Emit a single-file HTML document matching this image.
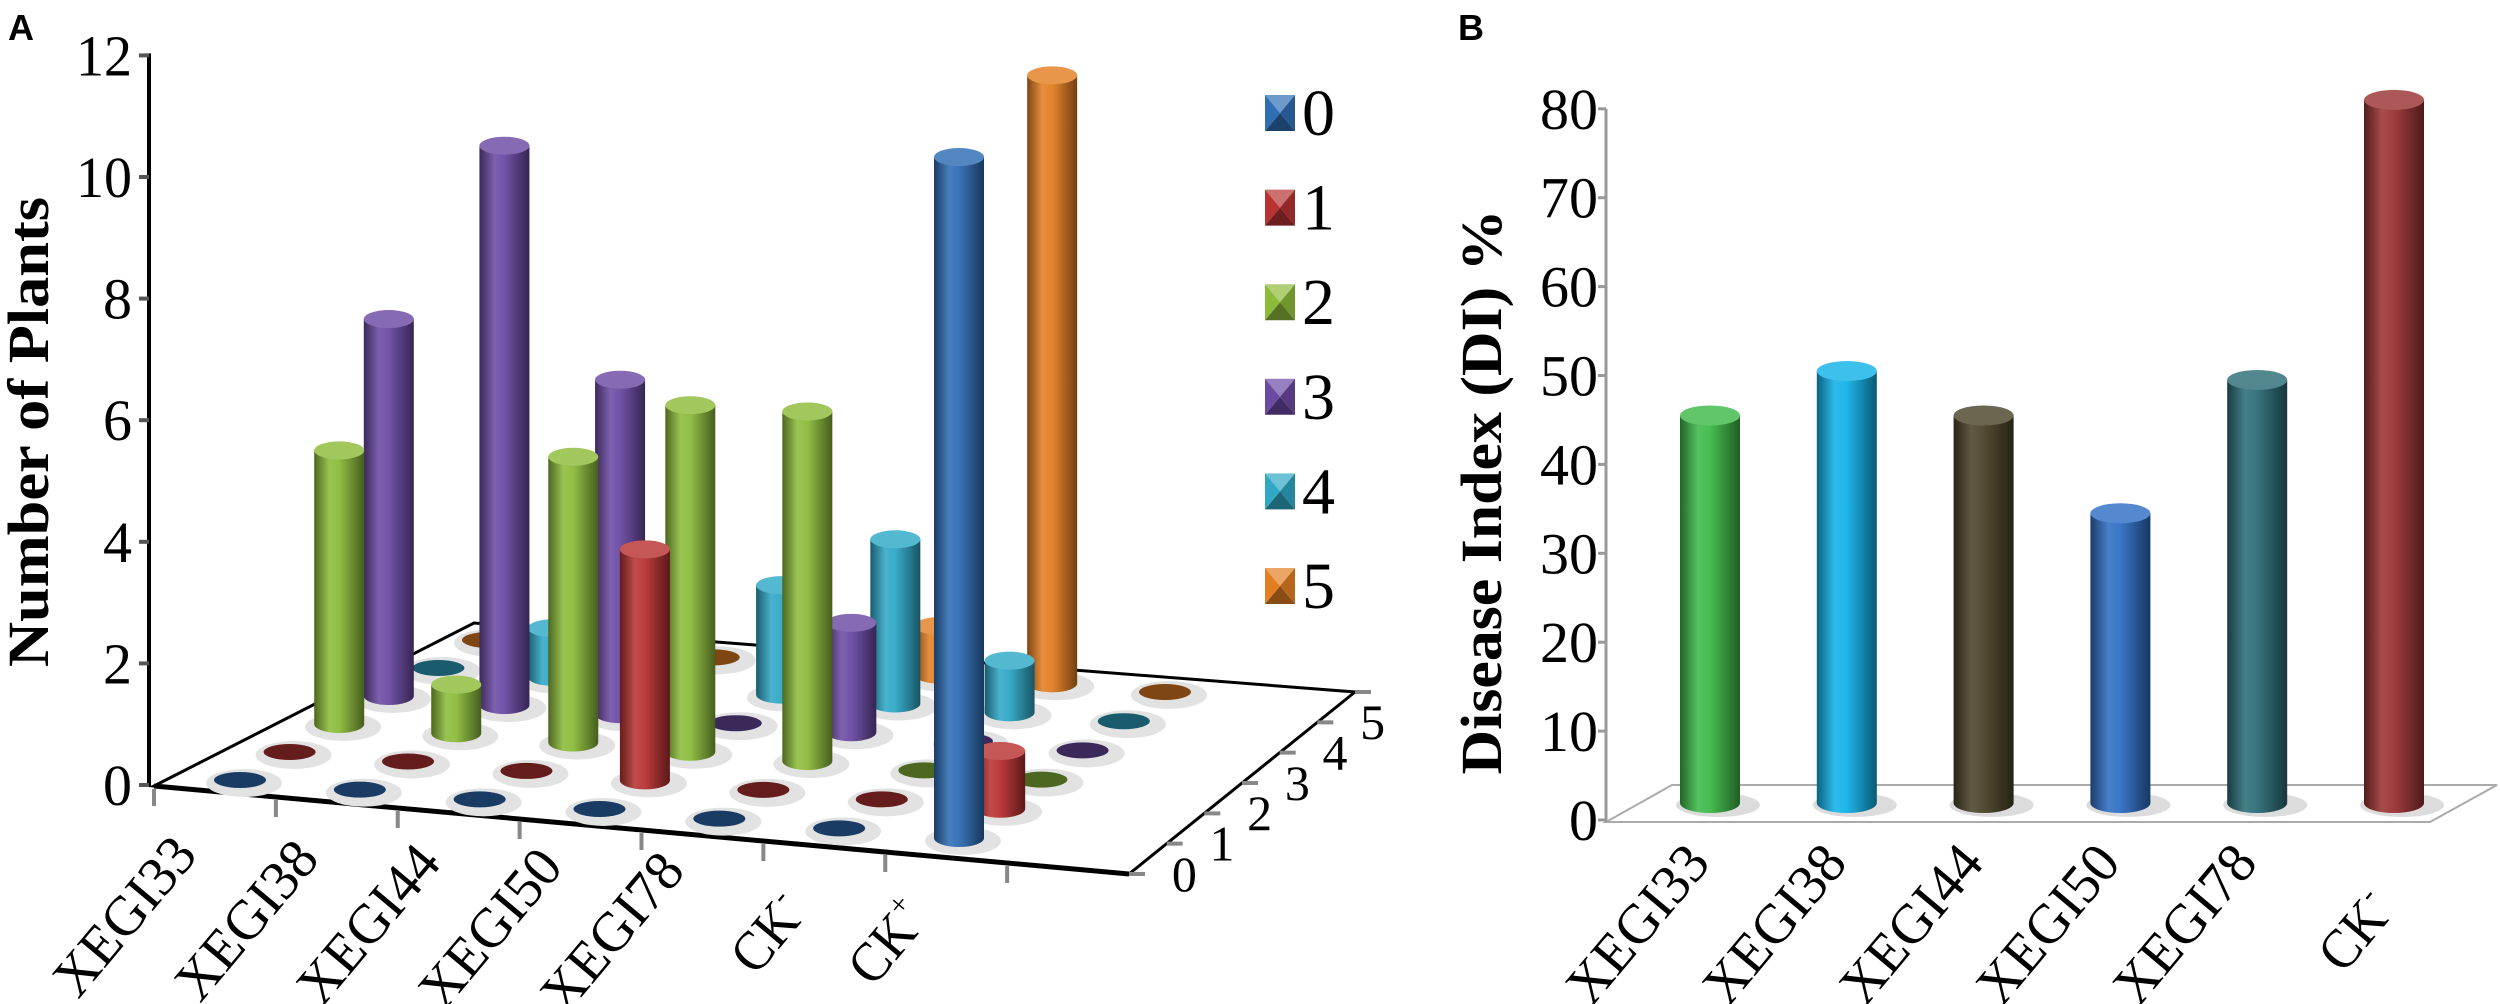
<!DOCTYPE html>
<html><head><meta charset="utf-8"><style>
html,body{margin:0;padding:0;background:#fff;overflow:hidden;}
svg{display:block;}
text{font-family:"Liberation Serif","Times New Roman",serif;}
</style></head><body>
<svg id="chart" width="2500" height="1004" viewBox="0 0 2500 1004">
<defs id="defs"></defs>
<text x="8" y="40" style="font-family:'Liberation Sans',sans-serif" font-weight="bold" font-size="36">A</text>
<text x="1458" y="40" style="font-family:'Liberation Sans',sans-serif" font-weight="bold" font-size="36">B</text>
<g id="panelA" font-family="Liberation Serif, serif"></g>
<g id="panelB" font-family="Liberation Serif, serif"></g>
</svg>
<script>
// ---- Panel A data ----
const catsA = ["XEGI33","XEGI38","XEGI44","XEGI50","XEGI78","CK-","CK+"];
const grades = ["0","1","2","3","4","5"];
const grade0 = [0,0,0,0,0,0,11.2];
const grade1 = [0,0,0,3.8,0,0,0.95];
const grade2 = [4.5,0.8,4.7,5.7,5.75,0,0];
const grade3 = [6.2,9.2,5.5,0,1.8,0,0];
const grade4 = [0,0.8,0,1.8,2.7,0.85,0];
const grade5 = [0,0,0,0,0.8,10,0];
const yTicksA = [0,2,4,6,8,10,12];
// ---- Panel B data ----
const catsB = ["XEGI33","XEGI38","XEGI44","XEGI50","XEGI78","CK-"];
const diValues = [45.5,50.5,45.5,34.5,49.5,81];
const yTicksB = [0,10,20,30,40,50,60,70,80];

const NS="http://www.w3.org/2000/svg";
const svg=document.getElementById('chart');
const defs=document.getElementById('defs');
const gA=document.getElementById('panelA');
const gB=document.getElementById('panelB');
const SERIF='Liberation Serif, serif';
function el(tag,attrs,parent){const e=document.createElementNS(NS,tag);for(const k in attrs)e.setAttribute(k,attrs[k]);if(tag==='text')e.setAttribute('font-family',SERIF);(parent||svg).appendChild(e);return e;}
function mix(hex,t){
 const n=parseInt(hex.slice(1),16);let r=n>>16,g=(n>>8)&255,b=n&255;
 const f=c=>Math.round(t<0?c*(1+t):c+(255-c)*t);
 return `rgb(${f(r)},${f(g)},${f(b)})`;}
let gid=0;
function grad(col){const id='g'+(gid++);const lg=el('linearGradient',{id:id,x1:0,y1:0,x2:1,y2:0},defs);
 [[0,-0.45],[0.3,0.12],[0.5,0.05],[1,-0.5]].forEach(s=>el('stop',{offset:s[0],'stop-color':mix(col,s[1])},lg));return id;}
function cyl(parent,cx,yb,yt,rx,ry,col,name){
 const g=el('g',{},parent);
 
 
 const id=grad(col);
 el('path',{d:`M${cx-rx},${yt} L${cx-rx},${yb} A${rx},${ry} 0 0 0 ${cx+rx},${yb} L${cx+rx},${yt} Z`,fill:`url(#${id})`},g);
 el('ellipse',{cx:cx,cy:yt,rx:rx,ry:ry,fill:mix(col,0.18)},g);
 return g;}
function catLabel(parent,c,x,y){
 const isCK=c.startsWith('CK');
 const attrs={transform:`translate(${x},${y}) rotate(-50)`,'text-anchor':'end','font-size':56};
 if(!isCK){attrs.textLength=188;attrs.lengthAdjust='spacingAndGlyphs';}
 const tx=el('text',attrs,parent);
 
 
 if(isCK){const a=el('tspan',{textLength:72,lengthAdjust:'spacingAndGlyphs'},tx);a.textContent='CK';const s=el('tspan',{'font-size':30,dy:-24},tx);s.textContent=c.slice(2);}
 else tx.textContent=c;}

// ===== Panel A =====
const colorsA=["#2f6db5","#b83232","#8cbb3a","#6b4aa3","#2fa8c6","#e37f22"];
const seriesA=[grade0,grade1,grade2,grade3,grade4,grade5];
const P00=[240,780],P60=[959,838],P05=[488,640],P65=[1165,692];
function lerp(a,b,t){return [a[0]+(b[0]-a[0])*t,a[1]+(b[1]-a[1])*t];}
function floorPt(c,s){const u=c/(catsA.length-1),v=s/(grades.length-1);return lerp(lerp(P00,P60,u),lerp(P05,P65,u),v);}
const unitA=60.8, y0A=785;
function yA(v){return y0A-v*unitA;}
const FL=[154,786],FR=[1129,874],BR=[1355,692],BL=[474,623];
const floor=el('polygon',{points:[FL,FR,BR,BL].map(p=>p.join(',')).join(' '),fill:'#fff',stroke:'#000','stroke-width':3},gA);


const fe=el('line',{x1:FL[0],y1:FL[1],x2:FR[0],y2:FR[1],stroke:'#000','stroke-width':5},gA);


const ya=el('line',{x1:149,y1:yA(12)-2,x2:149,y2:787,stroke:'#000','stroke-width':4},gA);


yTicksA.forEach(v=>{
 const t=el('line',{x1:139,y1:yA(v),x2:149,y2:yA(v),stroke:'#555','stroke-width':4},gA);
 
 
 const attrs={x:132,y:yA(v)+20,'text-anchor':'end','font-size':58};
 if(String(v).length===2){attrs.textLength=56;attrs.lengthAdjust='spacingAndGlyphs';}
 const tx=el('text',attrs,gA);
 
 
 tx.textContent=v;});
const yt=el('text',{transform:'translate(48,432) rotate(-90)','text-anchor':'middle','font-size':58,'font-weight':'bold',textLength:470,lengthAdjust:'spacingAndGlyphs'},gA);


yt.textContent='Number of Plants';
const nSlots=catsA.length+1;
for(let k=0;k<nSlots;k++){const p=lerp(FL,FR,k/nSlots);
 const t=el('line',{x1:p[0],y1:p[1]+3,x2:p[0],y2:p[1]+20,stroke:'#888','stroke-width':4},gA);
 
 }
catsA.forEach((c,i)=>{const p=lerp(FL,FR,(i+0.5)/nSlots);
 const ly=c.startsWith('CK')?(c==='CK+'?920:914):856+i*4;
 catLabel(gA,c,p[0]-16,ly);});
for(let k=0;k<=grades.length;k++){const p=lerp(FR,BR,k/grades.length);
 const t=el('line',{x1:p[0],y1:p[1],x2:p[0]+16,y2:p[1],stroke:'#888','stroke-width':4},gA);
 
 }
grades.forEach((g,k)=>{const p=lerp(FR,BR,(k+0.5)/grades.length);
 const tx=el('text',{x:p[0]+24,y:p[1]+32,'font-size':50},gA);
 
 
 tx.textContent=g;});
const items=[];
seriesA.forEach((arr,s)=>arr.forEach((v,c)=>{const p=floorPt(c,s);items.push({c,s,v,x:p[0],y:p[1]});}));
items.forEach(it=>{
 const sh=el('ellipse',{cx:it.x+4,cy:it.y+3,rx:38,ry:14,fill:'#e2e2e2'},gA);
 
 });
items.filter(it=>it.v===0).forEach(it=>{
 const d=el('ellipse',{cx:it.x,cy:it.y,rx:26,ry:8,fill:mix(colorsA[it.s],-0.45)},gA);
 
 });
items.filter(it=>it.v>0).sort((a,b)=>a.y-b.y).forEach(it=>{
 cyl(gA,it.x,it.y,yA(it.v)-(y0A-it.y),25,9,colorsA[it.s],'bar-'+catsA[it.c]+'-grade'+grades[it.s]);});
grades.forEach((g,i)=>{const cy=113+i*94.6,x=1265,w=30,h=36,y=cy-h/2,col=colorsA[i];
 const lg=el('g',{},gA);
 
 
 const cx=x+w/2;
 el('polygon',{points:`${x},${y} ${x+w},${y} ${cx},${cy}`,fill:mix(col,0.3)},lg);
 el('polygon',{points:`${x+w},${y} ${x+w},${y+h} ${cx},${cy}`,fill:mix(col,-0.2)},lg);
 el('polygon',{points:`${x},${y+h} ${x+w},${y+h} ${cx},${cy}`,fill:mix(col,-0.4)},lg);
 el('polygon',{points:`${x},${y} ${x},${y+h} ${cx},${cy}`,fill:col},lg);
 const tx=el('text',{x:1302,y:cy+22,'font-size':66},lg);
 tx.textContent=g;});

// ===== Panel B =====
const colorsB=["#3dba48","#12b2e8","#4a4428","#2f6fc4","#2c6d78","#9b3333"];
const axB=1606, y0B=820, unitB=8.89;
function yB(v){return y0B-v*unitB;}
function xB(i){return 1710+i*136.8;}
const fb=el('polygon',{points:`1606,822 2430,822 2497,785 1672,785`,fill:'#fff',stroke:'#aaa','stroke-width':2},gB);


const yab=el('line',{x1:axB,y1:yB(80),x2:axB,y2:822,stroke:'#999','stroke-width':3},gB);


yTicksB.forEach(v=>{
 const t=el('line',{x1:axB-8,y1:yB(v),x2:axB,y2:yB(v),stroke:'#999','stroke-width':3},gB);
 
 
 const attrs={x:axB-8,y:yB(v)+20,'text-anchor':'end','font-size':58};
 if(String(v).length===2){attrs.textLength=58;attrs.lengthAdjust='spacingAndGlyphs';}
 const tx=el('text',attrs,gB);
 
 
 tx.textContent=v;});
const ytb=el('text',{transform:'translate(1501,492) rotate(-90)','text-anchor':'middle','font-size':58,'font-weight':'bold',textLength:565,lengthAdjust:'spacingAndGlyphs'},gB);


ytb.textContent='Disease Index (DI) %';
diValues.forEach((v,i)=>{
 const sh=el('ellipse',{cx:xB(i)+8,cy:805,rx:42,ry:12,fill:'#dcdcdc'},gB);
 
 
 cyl(gB,xB(i),803,yB(v),30,10,colorsB[i],'bar-'+catsB[i]);
 const c=catsB[i];
 catLabel(gB,c,xB(i)+2,c.startsWith('CK')?912:864);});
</script>
</body></html>
